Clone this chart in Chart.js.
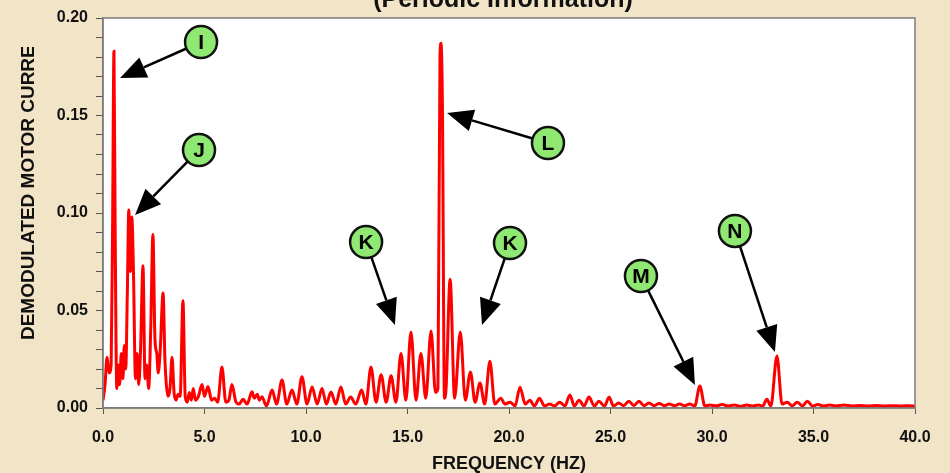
<!DOCTYPE html>
<html>
<head>
<meta charset="utf-8">
<script src="https://cdn.jsdelivr.net/npm/chart.js@4.4.0/dist/chart.umd.min.js"></script>
<style>
  html, body { margin: 0; padding: 0; background: #f2e4c6; }
  #wrap { width: 950px; height: 473px; }
</style>
</head>
<body>
<div id="wrap"><canvas id="myCanvas" width="950" height="473"></canvas></div>
<script>
// spettro: frequenza (Hz) e ampiezza
let freq = [
  0.0, 0.1, 0.2, 0.3, 0.4, 0.47, 0.54, 0.6, 0.68, 0.75, 0.82, 0.9, 0.98, 1.05, 1.12, 1.2, 1.27, 1.35, 1.42, 1.5,
  1.6, 1.68, 1.76, 1.85, 1.97, 2.07, 2.15, 2.25, 2.35, 2.46, 2.56, 2.65, 2.72, 2.82, 2.96, 3.05, 3.12, 3.2, 3.3, 3.4,
  3.5, 3.6, 3.7, 3.8, 3.94, 4.05, 4.15, 4.25, 4.35, 4.45, 4.55, 4.7, 4.88, 5.0, 5.17, 5.35, 5.5, 5.65, 5.86, 6.05,
  6.2, 6.35, 6.55, 6.7, 6.9, 7.1, 7.34, 7.45, 7.6, 7.7, 7.83, 8.05, 8.33, 8.55, 8.82, 9.05, 9.31, 9.55, 9.8, 10.05,
  10.3, 10.55, 10.79, 11.0, 11.23, 11.47, 11.72, 11.95, 12.2, 12.45, 12.74, 12.95, 13.2, 13.45, 13.7, 13.95, 14.19, 14.43, 14.68, 14.92,
  15.17, 15.42, 15.66, 15.9, 16.16, 16.38, 16.5, 16.6, 16.65, 16.72, 16.82, 16.9, 17.1, 17.32, 17.6, 17.85, 18.1, 18.33, 18.57, 18.8,
  19.06, 19.3, 19.6, 19.8, 20.05, 20.3, 20.54, 20.8, 21.03, 21.25, 21.5, 21.75, 22.0, 22.25, 22.5, 22.75, 23.0, 23.22, 23.45, 23.7,
  23.94, 24.2, 24.43, 24.7, 24.93, 25.15, 25.4, 25.65, 25.9, 26.15, 26.4, 26.65, 26.9, 27.15, 27.4, 27.65, 27.9, 28.15, 28.4, 28.65,
  28.9, 29.15, 29.4, 29.65, 29.9, 30.2, 30.5, 30.8, 31.1, 31.4, 31.7, 32.0, 32.3, 32.5, 32.7, 32.9, 33.2, 33.45, 33.7, 33.95,
  34.2, 34.45, 34.7, 34.95, 35.2, 35.5, 35.8, 36.1, 36.5, 36.9, 37.3, 37.7, 38.1, 38.5, 38.9, 39.3, 39.7, 40.0
];

let ampiezza = [
  0.004, 0.012, 0.026, 0.018, 0.022, 0.09, 0.183, 0.09, 0.010, 0.022, 0.012, 0.028, 0.015, 0.032, 0.020, 0.06, 0.1015, 0.07, 0.098, 0.07,
  0.015, 0.028, 0.012, 0.03, 0.073, 0.015, 0.022, 0.010, 0.04, 0.089, 0.035, 0.028, 0.018, 0.03, 0.059, 0.025, 0.012, 0.006, 0.010, 0.026,
  0.008, 0.004, 0.007, 0.006, 0.055, 0.006, 0.003, 0.008, 0.004, 0.010, 0.004, 0.006, 0.012, 0.006, 0.011, 0.004, 0.005, 0.003, 0.021, 0.003,
  0.004, 0.012, 0.003, 0.002, 0.0045, 0.002, 0.0083, 0.005, 0.007, 0.004, 0.0058, 0.001, 0.0092, 0.002, 0.0144, 0.002, 0.0092, 0.002, 0.016, 0.002,
  0.0108, 0.002, 0.010, 0.002, 0.0082, 0.002, 0.0108, 0.002, 0.0056, 0.002, 0.0092, 0.002, 0.021, 0.003, 0.017, 0.003, 0.0165, 0.003, 0.028, 0.004,
  0.039, 0.004, 0.028, 0.005, 0.0395, 0.008, 0.01, 0.18, 0.187, 0.155, 0.005, 0.01, 0.066, 0.005, 0.039, 0.004, 0.0185, 0.003, 0.0128, 0.002,
  0.024, 0.002, 0.005, 0.002, 0.003, 0.001, 0.0107, 0.002, 0.004, 0.001, 0.005, 0.001, 0.002, 0.001, 0.003, 0.001, 0.0067, 0.001, 0.004, 0.001,
  0.0056, 0.001, 0.0035, 0.001, 0.0055, 0.001, 0.0026, 0.0012, 0.0035, 0.0012, 0.0035, 0.0012, 0.0026, 0.0012, 0.0023, 0.0012, 0.002, 0.0012, 0.002, 0.0012,
  0.002, 0.001, 0.0113, 0.001, 0.0015, 0.001, 0.0018, 0.001, 0.0015, 0.0008, 0.0015, 0.001, 0.0015, 0.001, 0.0045, 0.001, 0.0267, 0.002, 0.003, 0.001,
  0.003, 0.001, 0.0035, 0.001, 0.0018, 0.001, 0.0015, 0.001, 0.0015, 0.001, 0.0013, 0.001, 0.0013, 0.001, 0.0012, 0.001, 0.0012, 0.001
];

// etichette dei picchi: lettera, posizione del cerchio e punta della freccia (in unita' del grafico)
let lettere = ["I", "J", "K", "K", "L", "M", "N"];
let cerchioX = [4.83, 4.73, 12.96, 20.05, 21.92, 26.5, 31.13];
let cerchioY = [0.1877, 0.1323, 0.0851, 0.0846, 0.1359, 0.0677, 0.0908];
let puntaX = [0.84, 1.58, 14.38, 18.67, 16.95, 29.16, 33.1];
let puntaY = [0.1692, 0.099, 0.0426, 0.0426, 0.1513, 0.0118, 0.0287];

let titolo = "(Periodic Information)";
let titoloY = "DEMODULATED MOTOR CURRENT";
let titoloX = "FREQUENCY (HZ)";

let punti = freq.map((f, i) => ({ x: f, y: ampiezza[i] }));

// plugin per sfondo, titoli e frecce
const decorazioni = {
  id: 'decorazioni',
  beforeDraw(chart) {
    const ctx = chart.ctx;
    const a = chart.chartArea;
    ctx.save();
    ctx.fillStyle = '#f2e4c6';
    ctx.fillRect(0, 0, chart.width, chart.height);
    ctx.fillStyle = '#ffffff';
    ctx.fillRect(a.left, a.top, a.right - a.left, a.bottom - a.top);
    // titolo tagliato in alto
    ctx.fillStyle = '#111';
    ctx.font = 'bold 25px "Liberation Sans", Arial, sans-serif';
    ctx.textAlign = 'center';
    ctx.textBaseline = 'alphabetic';
    ctx.fillText(titolo, 503, 7);
    // titolo asse y, tagliato come nell'originale
    ctx.beginPath();
    ctx.rect(0, 47, 60, 420);
    ctx.clip();
    ctx.translate(29, 180);
    ctx.rotate(-Math.PI / 2);
    ctx.font = 'bold 19px "Liberation Sans", Arial, sans-serif';
    ctx.textBaseline = 'middle';
    ctx.fillText(titoloY, 0, 0);
    ctx.restore();
  },
  afterDatasetsDraw(chart) {
    const ctx = chart.ctx;
    const a = chart.chartArea;
    const sx = chart.scales.x, sy = chart.scales.y;
    ctx.save();
    ctx.strokeStyle = '#7c7c7c';
    ctx.lineWidth = 1.5;
    ctx.strokeRect(a.left, a.top, a.right - a.left, a.bottom - a.top);

    const r = 16;
    lettere.forEach((l, i) => {
      const cx = sx.getPixelForValue(cerchioX[i]);
      const cy = sy.getPixelForValue(cerchioY[i]);
      const tx = sx.getPixelForValue(puntaX[i]);
      const ty = sy.getPixelForValue(puntaY[i]);
      const ang = Math.atan2(ty - cy, tx - cx);
      const head = 26, half = 11;
      const bx = tx - Math.cos(ang) * head;
      const by = ty - Math.sin(ang) * head;
      // linea
      ctx.strokeStyle = '#000';
      ctx.lineWidth = 2.5;
      ctx.beginPath();
      ctx.moveTo(cx + Math.cos(ang) * r, cy + Math.sin(ang) * r);
      ctx.lineTo(bx, by);
      ctx.stroke();
      // punta
      ctx.fillStyle = '#000';
      ctx.beginPath();
      ctx.moveTo(tx, ty);
      ctx.lineTo(bx + Math.sin(ang) * half, by - Math.cos(ang) * half);
      ctx.lineTo(bx - Math.sin(ang) * half, by + Math.cos(ang) * half);
      ctx.closePath();
      ctx.fill();
      // cerchio
      ctx.beginPath();
      ctx.arc(cx, cy, r, 0, Math.PI * 2);
      ctx.fillStyle = '#8fe872';
      ctx.fill();
      ctx.lineWidth = 2.5;
      ctx.strokeStyle = '#111';
      ctx.stroke();
      ctx.fillStyle = '#000';
      ctx.font = 'bold 21px "Liberation Sans", Arial, sans-serif';
      ctx.textAlign = 'center';
      ctx.textBaseline = 'middle';
      ctx.fillText(l, cx, cy + 1);
    });
    ctx.restore();
  }
};

let myCanvas = document.getElementById("myCanvas").getContext('2d');

Chart.defaults.font.family = '"Liberation Sans", Arial, sans-serif';
Chart.defaults.color = '#111';

let chart = new Chart(myCanvas, {
  type: 'line',
  data: {
    datasets: [{
      data: punti,
      borderColor: '#ff0000',
      borderWidth: 3,
      pointRadius: 0,
      cubicInterpolationMode: 'monotone',
      fill: false
    }]
  },
  options: {
    responsive: false,
    animation: false,
    layout: { padding: { top: 18, right: 35, left: 0, bottom: 0 } },
    plugins: {
      legend: { display: false },
      tooltip: { enabled: false }
    },
    scales: {
      x: {
        type: 'linear',
        min: 0,
        max: 40,
        afterFit(scale) { scale.height = 65; },
        ticks: {
          stepSize: 5,
          padding: 14,
          font: { size: 16, weight: 'bold' },
          callback: v => v.toFixed(1)
        },
        grid: { drawOnChartArea: false, tickLength: 6, tickColor: '#555' },
        border: { color: '#7c7c7c', width: 1.5 },
        title: {
          display: true,
          text: titoloX,
          font: { size: 18, weight: 'bold', lineHeight: 1 },
          padding: { top: 0, bottom: 0 }
        }
      },
      y: {
        min: 0,
        max: 0.2,
        afterFit(scale) { scale.width = 103; },
        ticks: {
          stepSize: 0.01,
          autoSkip: false,
          padding: 8,
          font: { size: 16, weight: 'bold' },
          callback: v => (Math.round(v * 100) % 5 === 0 ? v.toFixed(2) : '')
        },
        grid: { drawOnChartArea: false, tickLength: 7, tickColor: '#555' },
        border: { color: '#7c7c7c', width: 1.5 }
      }
    }
  },
  plugins: [decorazioni]
});
</script>
</body>
</html>
